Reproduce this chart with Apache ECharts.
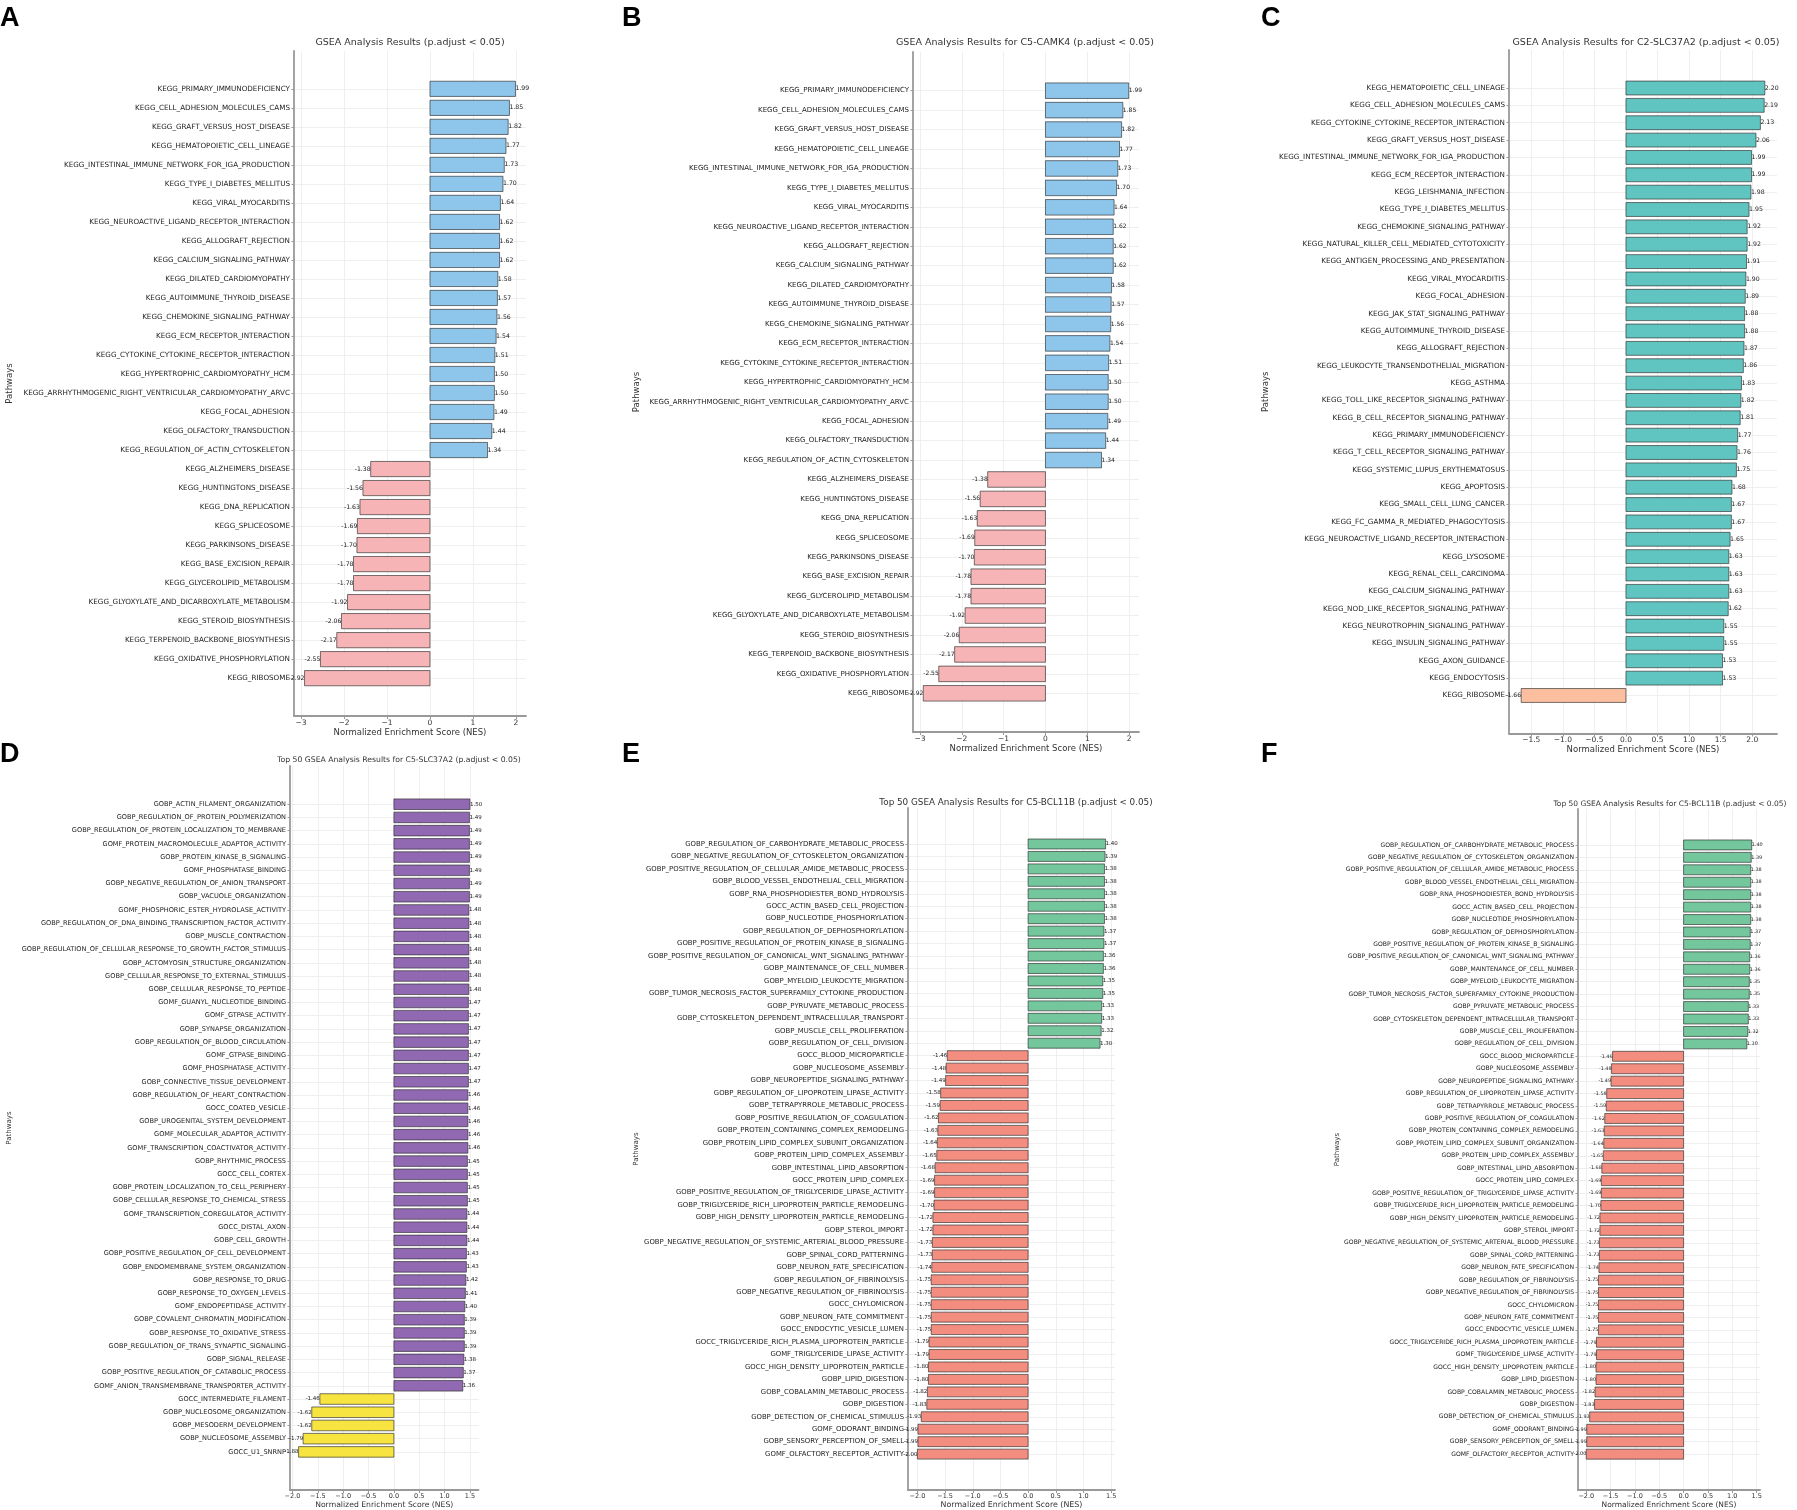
<!DOCTYPE html>
<html>
<head>
<meta charset="utf-8">
<script src="https://cdn.jsdelivr.net/npm/echarts@6/dist/echarts.min.js"></script>
<style>
  html, body { margin: 0; padding: 0; background: #fff; }
  #chart { width: 1797px; height: 1510px; }
</style>
</head>
<body>
<div id="chart"></div>
<script>
// A and B share the same KEGG result list
const keggCamk4Pathways = [
  'KEGG_PRIMARY_IMMUNODEFICIENCY', 'KEGG_CELL_ADHESION_MOLECULES_CAMS', 'KEGG_GRAFT_VERSUS_HOST_DISEASE',
  'KEGG_HEMATOPOIETIC_CELL_LINEAGE', 'KEGG_INTESTINAL_IMMUNE_NETWORK_FOR_IGA_PRODUCTION', 'KEGG_TYPE_I_DIABETES_MELLITUS',
  'KEGG_VIRAL_MYOCARDITIS', 'KEGG_NEUROACTIVE_LIGAND_RECEPTOR_INTERACTION', 'KEGG_ALLOGRAFT_REJECTION',
  'KEGG_CALCIUM_SIGNALING_PATHWAY', 'KEGG_DILATED_CARDIOMYOPATHY', 'KEGG_AUTOIMMUNE_THYROID_DISEASE',
  'KEGG_CHEMOKINE_SIGNALING_PATHWAY', 'KEGG_ECM_RECEPTOR_INTERACTION', 'KEGG_CYTOKINE_CYTOKINE_RECEPTOR_INTERACTION',
  'KEGG_HYPERTROPHIC_CARDIOMYOPATHY_HCM', 'KEGG_ARRHYTHMOGENIC_RIGHT_VENTRICULAR_CARDIOMYOPATHY_ARVC', 'KEGG_FOCAL_ADHESION',
  'KEGG_OLFACTORY_TRANSDUCTION', 'KEGG_REGULATION_OF_ACTIN_CYTOSKELETON', 'KEGG_ALZHEIMERS_DISEASE',
  'KEGG_HUNTINGTONS_DISEASE', 'KEGG_DNA_REPLICATION', 'KEGG_SPLICEOSOME', 'KEGG_PARKINSONS_DISEASE',
  'KEGG_BASE_EXCISION_REPAIR', 'KEGG_GLYCEROLIPID_METABOLISM', 'KEGG_GLYOXYLATE_AND_DICARBOXYLATE_METABOLISM',
  'KEGG_STEROID_BIOSYNTHESIS', 'KEGG_TERPENOID_BACKBONE_BIOSYNTHESIS', 'KEGG_OXIDATIVE_PHOSPHORYLATION', 'KEGG_RIBOSOME'
]
const keggCamk4Nes = [
  1.99, 1.85, 1.82, 1.77, 1.73, 1.70, 1.64, 1.62, 1.62, 1.62, 1.58, 1.57, 1.56, 1.54, 1.51, 1.50, 1.50, 1.49, 1.44, 1.34,
  -1.38, -1.56, -1.63, -1.69, -1.70, -1.78, -1.78, -1.92, -2.06, -2.17, -2.55, -2.92
]

const keggSlc37a2Pathways = [
  'KEGG_HEMATOPOIETIC_CELL_LINEAGE', 'KEGG_CELL_ADHESION_MOLECULES_CAMS', 'KEGG_CYTOKINE_CYTOKINE_RECEPTOR_INTERACTION',
  'KEGG_GRAFT_VERSUS_HOST_DISEASE', 'KEGG_INTESTINAL_IMMUNE_NETWORK_FOR_IGA_PRODUCTION', 'KEGG_ECM_RECEPTOR_INTERACTION',
  'KEGG_LEISHMANIA_INFECTION', 'KEGG_TYPE_I_DIABETES_MELLITUS', 'KEGG_CHEMOKINE_SIGNALING_PATHWAY',
  'KEGG_NATURAL_KILLER_CELL_MEDIATED_CYTOTOXICITY', 'KEGG_ANTIGEN_PROCESSING_AND_PRESENTATION', 'KEGG_VIRAL_MYOCARDITIS',
  'KEGG_FOCAL_ADHESION', 'KEGG_JAK_STAT_SIGNALING_PATHWAY', 'KEGG_AUTOIMMUNE_THYROID_DISEASE', 'KEGG_ALLOGRAFT_REJECTION',
  'KEGG_LEUKOCYTE_TRANSENDOTHELIAL_MIGRATION', 'KEGG_ASTHMA', 'KEGG_TOLL_LIKE_RECEPTOR_SIGNALING_PATHWAY',
  'KEGG_B_CELL_RECEPTOR_SIGNALING_PATHWAY', 'KEGG_PRIMARY_IMMUNODEFICIENCY', 'KEGG_T_CELL_RECEPTOR_SIGNALING_PATHWAY',
  'KEGG_SYSTEMIC_LUPUS_ERYTHEMATOSUS', 'KEGG_APOPTOSIS', 'KEGG_SMALL_CELL_LUNG_CANCER', 'KEGG_FC_GAMMA_R_MEDIATED_PHAGOCYTOSIS',
  'KEGG_NEUROACTIVE_LIGAND_RECEPTOR_INTERACTION', 'KEGG_LYSOSOME', 'KEGG_RENAL_CELL_CARCINOMA', 'KEGG_CALCIUM_SIGNALING_PATHWAY',
  'KEGG_NOD_LIKE_RECEPTOR_SIGNALING_PATHWAY', 'KEGG_NEUROTROPHIN_SIGNALING_PATHWAY', 'KEGG_INSULIN_SIGNALING_PATHWAY',
  'KEGG_AXON_GUIDANCE', 'KEGG_ENDOCYTOSIS', 'KEGG_RIBOSOME'
]
const keggSlc37a2Nes = [
  2.20, 2.19, 2.13, 2.06, 1.99, 1.99, 1.98, 1.95, 1.92, 1.92, 1.91, 1.90, 1.89, 1.88, 1.88, 1.87, 1.86, 1.83,
  1.82, 1.81, 1.77, 1.76, 1.75, 1.68, 1.67, 1.67, 1.65, 1.63, 1.63, 1.63, 1.62, 1.55, 1.55, 1.53, 1.53, -1.66
]

const goSlc37a2Pathways = [
  'GOBP_ACTIN_FILAMENT_ORGANIZATION', 'GOBP_REGULATION_OF_PROTEIN_POLYMERIZATION', 'GOBP_REGULATION_OF_PROTEIN_LOCALIZATION_TO_MEMBRANE',
  'GOMF_PROTEIN_MACROMOLECULE_ADAPTOR_ACTIVITY', 'GOBP_PROTEIN_KINASE_B_SIGNALING', 'GOMF_PHOSPHATASE_BINDING',
  'GOBP_NEGATIVE_REGULATION_OF_ANION_TRANSPORT', 'GOBP_VACUOLE_ORGANIZATION', 'GOMF_PHOSPHORIC_ESTER_HYDROLASE_ACTIVITY',
  'GOBP_REGULATION_OF_DNA_BINDING_TRANSCRIPTION_FACTOR_ACTIVITY', 'GOBP_MUSCLE_CONTRACTION',
  'GOBP_REGULATION_OF_CELLULAR_RESPONSE_TO_GROWTH_FACTOR_STIMULUS', 'GOBP_ACTOMYOSIN_STRUCTURE_ORGANIZATION',
  'GOBP_CELLULAR_RESPONSE_TO_EXTERNAL_STIMULUS', 'GOBP_CELLULAR_RESPONSE_TO_PEPTIDE', 'GOMF_GUANYL_NUCLEOTIDE_BINDING',
  'GOMF_GTPASE_ACTIVITY', 'GOBP_SYNAPSE_ORGANIZATION', 'GOBP_REGULATION_OF_BLOOD_CIRCULATION', 'GOMF_GTPASE_BINDING',
  'GOMF_PHOSPHATASE_ACTIVITY', 'GOBP_CONNECTIVE_TISSUE_DEVELOPMENT', 'GOBP_REGULATION_OF_HEART_CONTRACTION',
  'GOCC_COATED_VESICLE', 'GOBP_UROGENITAL_SYSTEM_DEVELOPMENT', 'GOMF_MOLECULAR_ADAPTOR_ACTIVITY',
  'GOMF_TRANSCRIPTION_COACTIVATOR_ACTIVITY', 'GOBP_RHYTHMIC_PROCESS', 'GOCC_CELL_CORTEX',
  'GOBP_PROTEIN_LOCALIZATION_TO_CELL_PERIPHERY', 'GOBP_CELLULAR_RESPONSE_TO_CHEMICAL_STRESS',
  'GOMF_TRANSCRIPTION_COREGULATOR_ACTIVITY', 'GOCC_DISTAL_AXON', 'GOBP_CELL_GROWTH',
  'GOBP_POSITIVE_REGULATION_OF_CELL_DEVELOPMENT', 'GOBP_ENDOMEMBRANE_SYSTEM_ORGANIZATION', 'GOBP_RESPONSE_TO_DRUG',
  'GOBP_RESPONSE_TO_OXYGEN_LEVELS', 'GOMF_ENDOPEPTIDASE_ACTIVITY', 'GOBP_COVALENT_CHROMATIN_MODIFICATION',
  'GOBP_RESPONSE_TO_OXIDATIVE_STRESS', 'GOBP_REGULATION_OF_TRANS_SYNAPTIC_SIGNALING', 'GOBP_SIGNAL_RELEASE',
  'GOBP_POSITIVE_REGULATION_OF_CATABOLIC_PROCESS', 'GOMF_ANION_TRANSMEMBRANE_TRANSPORTER_ACTIVITY',
  'GOCC_INTERMEDIATE_FILAMENT', 'GOBP_NUCLEOSOME_ORGANIZATION', 'GOBP_MESODERM_DEVELOPMENT',
  'GOBP_NUCLEOSOME_ASSEMBLY', 'GOCC_U1_SNRNP'
]
const goSlc37a2Nes = [
  1.50, 1.49, 1.49, 1.49, 1.49, 1.49, 1.49, 1.49, 1.48, 1.48, 1.48, 1.48, 1.48, 1.48, 1.48,
  1.47, 1.47, 1.47, 1.47, 1.47, 1.47, 1.47, 1.46, 1.46, 1.46, 1.46, 1.46, 1.45, 1.45, 1.45, 1.45,
  1.44, 1.44, 1.44, 1.43, 1.43, 1.42, 1.41, 1.40, 1.39, 1.39, 1.39, 1.38, 1.37, 1.36,
  -1.46, -1.62, -1.62, -1.79, -1.88
]

// E and F show the same C5-BCL11B list
const goBcl11bPathways = [
  'GOBP_REGULATION_OF_CARBOHYDRATE_METABOLIC_PROCESS', 'GOBP_NEGATIVE_REGULATION_OF_CYTOSKELETON_ORGANIZATION',
  'GOBP_POSITIVE_REGULATION_OF_CELLULAR_AMIDE_METABOLIC_PROCESS', 'GOBP_BLOOD_VESSEL_ENDOTHELIAL_CELL_MIGRATION',
  'GOBP_RNA_PHOSPHODIESTER_BOND_HYDROLYSIS', 'GOCC_ACTIN_BASED_CELL_PROJECTION', 'GOBP_NUCLEOTIDE_PHOSPHORYLATION',
  'GOBP_REGULATION_OF_DEPHOSPHORYLATION', 'GOBP_POSITIVE_REGULATION_OF_PROTEIN_KINASE_B_SIGNALING',
  'GOBP_POSITIVE_REGULATION_OF_CANONICAL_WNT_SIGNALING_PATHWAY', 'GOBP_MAINTENANCE_OF_CELL_NUMBER',
  'GOBP_MYELOID_LEUKOCYTE_MIGRATION', 'GOBP_TUMOR_NECROSIS_FACTOR_SUPERFAMILY_CYTOKINE_PRODUCTION',
  'GOBP_PYRUVATE_METABOLIC_PROCESS', 'GOBP_CYTOSKELETON_DEPENDENT_INTRACELLULAR_TRANSPORT',
  'GOBP_MUSCLE_CELL_PROLIFERATION', 'GOBP_REGULATION_OF_CELL_DIVISION', 'GOCC_BLOOD_MICROPARTICLE',
  'GOBP_NUCLEOSOME_ASSEMBLY', 'GOBP_NEUROPEPTIDE_SIGNALING_PATHWAY', 'GOBP_REGULATION_OF_LIPOPROTEIN_LIPASE_ACTIVITY',
  'GOBP_TETRAPYRROLE_METABOLIC_PROCESS', 'GOBP_POSITIVE_REGULATION_OF_COAGULATION',
  'GOBP_PROTEIN_CONTAINING_COMPLEX_REMODELING', 'GOBP_PROTEIN_LIPID_COMPLEX_SUBUNIT_ORGANIZATION',
  'GOBP_PROTEIN_LIPID_COMPLEX_ASSEMBLY', 'GOBP_INTESTINAL_LIPID_ABSORPTION', 'GOCC_PROTEIN_LIPID_COMPLEX',
  'GOBP_POSITIVE_REGULATION_OF_TRIGLYCERIDE_LIPASE_ACTIVITY', 'GOBP_TRIGLYCERIDE_RICH_LIPOPROTEIN_PARTICLE_REMODELING',
  'GOBP_HIGH_DENSITY_LIPOPROTEIN_PARTICLE_REMODELING', 'GOBP_STEROL_IMPORT',
  'GOBP_NEGATIVE_REGULATION_OF_SYSTEMIC_ARTERIAL_BLOOD_PRESSURE', 'GOBP_SPINAL_CORD_PATTERNING',
  'GOBP_NEURON_FATE_SPECIFICATION', 'GOBP_REGULATION_OF_FIBRINOLYSIS', 'GOBP_NEGATIVE_REGULATION_OF_FIBRINOLYSIS',
  'GOCC_CHYLOMICRON', 'GOBP_NEURON_FATE_COMMITMENT', 'GOCC_ENDOCYTIC_VESICLE_LUMEN',
  'GOCC_TRIGLYCERIDE_RICH_PLASMA_LIPOPROTEIN_PARTICLE', 'GOMF_TRIGLYCERIDE_LIPASE_ACTIVITY',
  'GOCC_HIGH_DENSITY_LIPOPROTEIN_PARTICLE', 'GOBP_LIPID_DIGESTION', 'GOBP_COBALAMIN_METABOLIC_PROCESS', 'GOBP_DIGESTION',
  'GOBP_DETECTION_OF_CHEMICAL_STIMULUS', 'GOMF_ODORANT_BINDING', 'GOBP_SENSORY_PERCEPTION_OF_SMELL',
  'GOMF_OLFACTORY_RECEPTOR_ACTIVITY'
]
const goBcl11bNes = [
  1.40, 1.39, 1.38, 1.38, 1.38, 1.38, 1.38, 1.37, 1.37, 1.36, 1.36, 1.35, 1.35, 1.33, 1.33, 1.32, 1.30,
  -1.46, -1.48, -1.49, -1.58, -1.59, -1.62, -1.63, -1.64, -1.65, -1.68, -1.69, -1.69, -1.70, -1.72, -1.72,
  -1.73, -1.73, -1.74, -1.75, -1.75, -1.75, -1.75, -1.75, -1.79, -1.79, -1.80, -1.80, -1.82, -1.83,
  -1.93, -1.99, -1.99, -2.00
]

const nesTicksKegg = [-3, -2, -1, 0, 1, 2]
const nesTicksKeggC = [-1.5, -1.0, -0.5, 0.0, 0.5, 1.0, 1.5, 2.0]
const nesTicksGo = [-2.0, -1.5, -1.0, -0.5, 0.0, 0.5, 1.0, 1.5]

const FONT = 'DejaVu Sans'
const XNAME = 'Normalized Enrichment Score (NES)'

const panels = [
  { letter: 'A', names: keggCamk4Pathways, nes: keggCamk4Nes, ticks: nesTicksKegg, dec: 0,
    title: 'GSEA Analysis Results (p.adjust < 0.05)',
    box: [294, 51, 526, 716], titleAt: [410, 43], letterAt: [0, 5],
    up: '#8ec6eb', down: '#f6b4b6', fs: [7.2, 6.2, 9.5, 7.5, 8.5, 8.5], xGap: 11, yGap: 280 },
  { letter: 'B', names: keggCamk4Pathways, nes: keggCamk4Nes, ticks: nesTicksKegg, dec: 0,
    title: 'GSEA Analysis Results for C5-CAMK4 (p.adjust < 0.05)',
    box: [913, 52, 1139, 732], titleAt: [1025, 43], letterAt: [622, 5],
    up: '#8ec6eb', down: '#f6b4b6', fs: [7.0, 6.0, 9.5, 7.5, 8.5, 8.5], xGap: 10, yGap: 272 },
  { letter: 'C', names: keggSlc37a2Pathways, nes: keggSlc37a2Nes, ticks: nesTicksKeggC, dec: 1,
    title: 'GSEA Analysis Results for C2-SLC37A2 (p.adjust < 0.05)',
    box: [1509, 50, 1777, 733.5], titleAt: [1646, 43], letterAt: [1261, 5],
    up: '#60c5c0', down: '#fbbf9f', fs: [7.2, 6.2, 9.5, 7.5, 8.5, 8.5], xGap: 10, yGap: 239 },
  { letter: 'D', names: goSlc37a2Pathways, nes: goSlc37a2Nes, ticks: nesTicksGo, dec: 1,
    title: 'Top 50 GSEA Analysis Results for C5-SLC37A2 (p.adjust < 0.05)',
    box: [290, 766, 478.5, 1496.5], titleAt: [399, 760], letterAt: [0, 741],
    up: '#9169b2', down: '#f7e440', fs: [6.6, 5.5, 7.7, 6.5, 7.7, 7], xGap: 8, yGap: 277 },
  { letter: 'E', names: goBcl11bPathways, nes: goBcl11bNes, ticks: nesTicksGo, dec: 1,
    title: 'Top 50 GSEA Analysis Results for C5-BCL11B (p.adjust < 0.05)',
    box: [908, 808, 1115, 1498], titleAt: [1016, 803], letterAt: [622, 741],
    up: '#74c69d', down: '#f38d7f', fs: [6.9, 5.5, 8.8, 6.5, 7.9, 7], xGap: 7, yGap: 266 },
  { letter: 'F', names: goBcl11bPathways, nes: goBcl11bNes, ticks: nesTicksGo, dec: 1,
    title: 'Top 50 GSEA Analysis Results for C5-BCL11B (p.adjust < 0.05)',
    box: [1578, 809, 1760, 1498], titleAt: [1670, 804], letterAt: [1261, 741],
    up: '#74c69d', down: '#f38d7f', fs: [6.1, 4.9, 7.5, 6.5, 7.5, 7], xGap: 7, yGap: 237 }
]

// matplotlib-style auto limits: data extent plus 5% margins
function limits(vals) {
  const n = vals.length
  const lo = Math.min(0, ...vals), hi = Math.max(0, ...vals)
  const px = (hi - lo) * 0.05, py = (n - 0.2) * 0.05
  return { xmin: lo - px, xmax: hi + px, ymin: -0.4 - py, ymax: n - 0.6 + py }
}

function tickFmt(dec) {
  return v => (v < 0 ? '\u2212' : '') + Math.abs(v).toFixed(dec)
}

const grid = [], xAxis = [], yAxis = [], series = [], graphic = []

panels.forEach((p, k) => {
  const lim = limits(p.nes)
  const [x0, y0, x1, y1] = p.box
  const [fLabel, fValue, fTitle, fTick, fXName, fYName] = p.fs
  const idx = p.names.map((_, i) => i)

  grid.push({ left: x0, top: y0, width: x1 - x0, height: y1 - y0, containLabel: false })

  xAxis.push({
    gridIndex: k, type: 'value', min: lim.xmin, max: lim.xmax, position: 'bottom',
    name: XNAME, nameLocation: 'middle', nameGap: p.xGap,
    nameTextStyle: { fontFamily: FONT, fontSize: fXName, color: '#333' },
    axisLine: { show: true, onZero: false, lineStyle: { color: '#999', width: 1.8 } },
    axisTick: { show: true, length: 3, customValues: p.ticks, lineStyle: { color: '#999' } },
    axisLabel: { customValues: p.ticks, formatter: tickFmt(p.dec), margin: 3,
      fontFamily: FONT, fontSize: fTick, color: '#333' },
    splitLine: { show: true, lineStyle: { color: '#ebebeb', width: 0.8 } }
  })

  yAxis.push({
    gridIndex: k, type: 'value', inverse: true, min: lim.ymin, max: lim.ymax,
    name: 'Pathways', nameLocation: 'middle', nameRotate: 90, nameGap: p.yGap,
    nameTextStyle: { fontFamily: FONT, fontSize: fYName, color: '#333' },
    axisLine: { show: true, onZero: false, lineStyle: { color: '#999', width: 1.8 } },
    axisTick: { show: true, length: 2.5, customValues: idx, lineStyle: { color: '#999' } },
    axisLabel: { customValues: idx, formatter: v => p.names[Math.round(v)] || '', margin: 4,
      fontFamily: FONT, fontSize: fLabel, color: '#222' },
    splitLine: { show: true, lineStyle: { color: '#ebebeb', width: 0.8 } }
  })

  series.push({
    type: 'custom', xAxisIndex: k, yAxisIndex: k, clip: false,
    encode: { x: 0, y: 1 },
    data: p.nes.map((v, i) => [v, i]),
    renderItem(params, api) {
      const v = api.value(0), i = api.value(1)
      const a = api.coord([0, i]), b = api.coord([v, i])
      const h = api.size([0, 0.8])[1]
      return {
        type: 'group',
        children: [
          {
            type: 'rect',
            shape: { x: Math.min(a[0], b[0]), y: a[1] - h / 2, width: Math.abs(b[0] - a[0]), height: h },
            style: { fill: v >= 0 ? p.up : p.down, stroke: 'rgba(40,40,40,0.7)', lineWidth: 0.9 }
          },
          {
            type: 'text', z2: 10,
            style: {
              x: b[0], y: b[1], text: v.toFixed(2),
              align: v >= 0 ? 'left' : 'right', verticalAlign: 'middle',
              fontFamily: FONT, fontSize: fValue, fill: '#222'
            }
          }
        ]
      }
    }
  })

  graphic.push({
    type: 'text', x: p.titleAt[0], y: p.titleAt[1],
    style: { text: p.title, align: 'center', verticalAlign: 'middle', fontFamily: FONT, fontSize: fTitle, fill: '#333' }
  })
  graphic.push({
    type: 'text', x: p.letterAt[0], y: p.letterAt[1],
    style: { text: p.letter, align: 'left', verticalAlign: 'top', fontFamily: 'Liberation Sans',
      fontWeight: 'bold', fontSize: 27, fill: '#000' }
  })
})

const chart = echarts.init(document.getElementById('chart'), null, { renderer: 'canvas' })
chart.setOption({
  backgroundColor: '#fff',
  animation: false,
  grid, xAxis, yAxis, series, graphic
})
</script>
</body>
</html>
